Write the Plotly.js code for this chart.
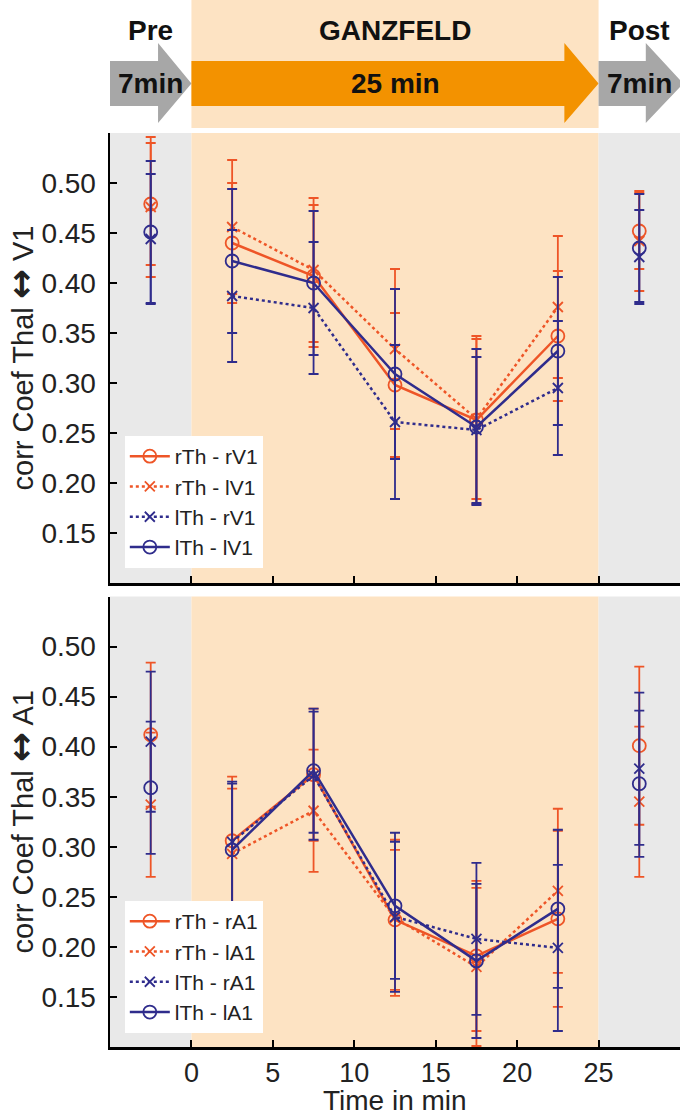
<!DOCTYPE html>
<html>
<head>
<meta charset="utf-8">
<script src="https://cdn.plot.ly/plotly-3.0.1.min.js"></script>
<style>html,body{margin:0;padding:0;background:#fff;}</style>
</head>
<body>
<div id="chart" style="width:685px;height:1118px;"></div>
<script>
// ---- data ----
const times = [-2.5, 2.5, 7.5, 12.5, 17.5, 22.5, 27.5]; // Pre, Ganzfeld blocks, Post
const xTicks = [0, 5, 10, 15, 20, 25];
const yTicks = [0.15, 0.20, 0.25, 0.30, 0.35, 0.40, 0.45, 0.50];

const v1Names = ['rTh - rV1', 'rTh - lV1', 'lTh - rV1', 'lTh - lV1'];
const v1_rTh_rV1 = [0.479, 0.440, 0.407, 0.298, 0.263, 0.347, 0.452];
const v1_rTh_rV1_err = [0.061, 0.060, 0.071, 0.072, 0.084, 0.065, 0.038];
const v1_rTh_lV1 = [0.476, 0.456, 0.413, 0.334, 0.264, 0.376, 0.442];
const v1_rTh_lV1_err = [0.070, 0.067, 0.072, 0.080, 0.080, 0.071, 0.050];
const v1_lTh_rV1 = [0.444, 0.387, 0.375, 0.261, 0.253, 0.295, 0.426];
const v1_lTh_rV1_err = [0.065, 0.066, 0.066, 0.077, 0.073, 0.067, 0.047];
const v1_lTh_lV1 = [0.451, 0.422, 0.400, 0.309, 0.256, 0.332, 0.435];
const v1_lTh_lV1_err = [0.071, 0.072, 0.072, 0.085, 0.078, 0.074, 0.054];

const a1Names = ['rTh - rA1', 'rTh - lA1', 'lTh - rA1', 'lTh - lA1'];
const a1_rTh_rA1 = [0.412, 0.306, 0.372, 0.227, 0.191, 0.228, 0.401];
const a1_rTh_rA1_err = [0.072, 0.064, 0.066, 0.070, 0.075, 0.088, 0.079];
const a1_rTh_lA1 = [0.342, 0.293, 0.336, 0.229, 0.180, 0.256, 0.345];
const a1_rTh_lA1_err = [0.072, 0.065, 0.061, 0.078, 0.079, 0.082, 0.075];
const a1_lTh_rA1 = [0.405, 0.305, 0.371, 0.230, 0.208, 0.199, 0.378];
const a1_lTh_rA1_err = [0.070, 0.060, 0.064, 0.075, 0.076, 0.083, 0.076];
const a1_lTh_lA1 = [0.359, 0.297, 0.376, 0.241, 0.186, 0.238, 0.363];
const a1_lTh_lA1_err = [0.066, 0.066, 0.062, 0.073, 0.077, 0.079, 0.073];

const headerLabels = ['Pre', 'GANZFELD', 'Post'];
const durationLabels = ['7min', '25 min', '7min'];
const xTitle = 'Time in min';

// ---- styles ----
const RED = '#EE5527';
const BLUE = '#2F2C8C';
const FONT = 'Liberation Sans, Arial, Helvetica, sans-serif';
const styles = [
  {color: RED, dash: 'solid', symbol: 'circle-open', size: 13},
  {color: RED, dash: 'dot', symbol: 'x-thin-open', size: 10},
  {color: BLUE, dash: 'dot', symbol: 'x-thin-open', size: 10},
  {color: BLUE, dash: 'solid', symbol: 'circle-open', size: 13}
];

function makeTraces(names, vals, errs, xa, ya, legendId) {
  const out = [];
  names.forEach((nm, i) => {
    const s = styles[i];
    const v = vals[i], e = errs[i];
    const lineIdx = [1, 2, 3, 4, 5];
    const ppIdx = [0, 6];
    const common = {
      xaxis: xa, yaxis: ya,
      marker: {symbol: s.symbol, size: s.size, color: s.color, line: {color: s.color, width: 1.8}},
      error_y: {type: 'data', visible: true, color: s.color, thickness: 1.8, width: 5},
      hoverinfo: 'skip'
    };
    out.push(Object.assign({}, common, {
      type: 'scatter', mode: 'markers',
      x: ppIdx.map(k => times[k]), y: ppIdx.map(k => v[k]),
      error_y: Object.assign({}, common.error_y, {array: ppIdx.map(k => e[k])}),
      showlegend: false, legend: legendId
    }));
    out.push(Object.assign({}, common, {
      type: 'scatter', mode: 'lines+markers', name: nm,
      x: lineIdx.map(k => times[k]), y: lineIdx.map(k => v[k]),
      error_y: Object.assign({}, common.error_y, {array: lineIdx.map(k => e[k])}),
      line: {color: s.color, width: 2.5, dash: s.dash},
      legend: legendId
    }));
  });
  return out;
}

const traces = [].concat(
  makeTraces(v1Names, [v1_rTh_rV1, v1_rTh_lV1, v1_lTh_rV1, v1_lTh_lV1],
             [v1_rTh_rV1_err, v1_rTh_lV1_err, v1_lTh_rV1_err, v1_lTh_lV1_err], 'x', 'y', 'legend'),
  makeTraces(a1Names, [a1_rTh_rA1, a1_rTh_lA1, a1_lTh_rA1, a1_lTh_lA1],
             [a1_rTh_rA1_err, a1_rTh_lA1_err, a1_lTh_rA1_err, a1_lTh_lA1_err], 'x2', 'y2', 'legend2')
);

// ---- layout helpers ----
const PLOT_H = 1047; // height of plotting area in px (t=0, b=71)
const py = p => (PLOT_H - p) / PLOT_H; // pixel row -> paper fraction

const GRAY_BG = '#E9E9E9';
const ORANGE_BG = '#FDE3C3';
const ARROW_GRAY = '#A7A7A7';
const ARROW_ORANGE = '#F39200';

function bgShapes(xr, yr) {
  return [
    {type: 'rect', xref: xr, yref: yr + ' domain', x0: -5, x1: 0, y0: 0, y1: 1, fillcolor: GRAY_BG, line: {width: 0}, layer: 'below'},
    {type: 'rect', xref: xr, yref: yr + ' domain', x0: 0, x1: 25, y0: 0, y1: 1, fillcolor: ORANGE_BG, line: {width: 0}, layer: 'below'},
    {type: 'rect', xref: xr, yref: yr + ' domain', x0: 25, x1: 30, y0: 0, y1: 1, fillcolor: GRAY_BG, line: {width: 0}, layer: 'below'}
  ];
}

function arrowPath(x0, xh, xt) {
  const bt = py(61), bb = py(106), ht = py(43), hb = py(123), mid = py(83.5);
  return `M ${x0},${bt} L ${xh},${bt} L ${xh},${ht} L ${xt},${mid} L ${xh},${hb} L ${xh},${bb} L ${x0},${bb} Z`;
}

const shapes = [].concat(
  bgShapes('x', 'y'),
  bgShapes('x2', 'y2'),
  [
    {type: 'rect', xref: 'x', yref: 'paper', x0: 0, x1: 25, y0: py(128), y1: 1, fillcolor: ORANGE_BG, line: {width: 0}, layer: 'below'},
    {type: 'path', xref: 'x', yref: 'paper', path: arrowPath(-5, -2.05, 0), fillcolor: ARROW_GRAY, line: {width: 0}},
    {type: 'path', xref: 'x', yref: 'paper', path: arrowPath(0, 22.9, 25), fillcolor: ARROW_ORANGE, line: {width: 0}},
    {type: 'path', xref: 'x', yref: 'paper', path: arrowPath(25, 27.9, 30.2), fillcolor: ARROW_GRAY, line: {width: 0}}
  ]
);

const headerX = [-2.5, 12.5, 27.5];
const annotations = [];
headerLabels.forEach((t, i) => annotations.push({
  text: '<b>' + t + '</b>', xref: 'x', yref: 'paper', x: headerX[i], y: py(30),
  showarrow: false, font: {family: FONT, size: 28, color: '#111'}, xanchor: 'center', yanchor: 'middle'
}));
durationLabels.forEach((t, i) => annotations.push({
  text: '<b>' + t + '</b>', xref: 'x', yref: 'paper', x: headerX[i], y: py(84),
  showarrow: false, font: {family: FONT, size: 28, color: '#111'}, xanchor: 'center', yanchor: 'middle'
}));
// x-axis title of the bottom panel, pinned to the bottom edge of the figure
annotations.push({
  text: xTitle, xref: 'paper', yref: 'paper', x: 0.5, y: py(1117), xanchor: 'center', yanchor: 'bottom',
  showarrow: false, font: {family: FONT, size: 28, color: '#222'}, borderpad: 0
});

const ARROW = '<span style="font-family:DejaVu Sans;font-weight:bold;font-size:36px">↔</span>';

const xBase = {
  range: [-5, 30], showline: true, linewidth: 2.5, linecolor: '#000',
  ticks: 'inside', ticklen: 7, tickwidth: 2, tickcolor: '#000',
  tickvals: xTicks, showgrid: false, zeroline: false, fixedrange: true, automargin: false
};
const yBase = {
  range: [0.10, 0.55], showline: true, linewidth: 2.5, linecolor: '#000',
  ticks: 'inside', ticklen: 7, tickwidth: 2, tickcolor: '#000',
  tickvals: yTicks, tickformat: '.2f', showgrid: false, zeroline: false,
  tickfont: {family: FONT, size: 28, color: '#222'}, ticklabelstandoff: 6, fixedrange: true, automargin: false
};
const legBase = {
  xanchor: 'left', yanchor: 'bottom', bgcolor: '#FFFFFF', borderwidth: 0,
  font: {family: FONT, size: 21, color: '#222'}, itemwidth: 40, tracegroupgap: 0
};

const layout = {
  width: 685, height: 1118,
  margin: {l: 110, r: 5, t: 0, b: 71},
  paper_bgcolor: '#FFFFFF', plot_bgcolor: 'rgba(0,0,0,0)',
  font: {family: FONT, color: '#222', size: 28},
  xaxis: Object.assign({}, xBase, {anchor: 'y', domain: [0, 1], showticklabels: false}),
  yaxis: Object.assign({}, yBase, {anchor: 'x', domain: [py(583), py(133)],
    title: {text: 'corr Coef Thal ' + ARROW + ' V1', font: {family: FONT, size: 29, color: '#222'}, standoff: 8}}),
  xaxis2: Object.assign({}, xBase, {anchor: 'y2', domain: [0, 1], showticklabels: true,
    tickfont: {family: FONT, size: 27, color: '#222'}, ticklabelstandoff: 0}),
  yaxis2: Object.assign({}, yBase, {anchor: 'x2', domain: [0, py(596.5)],
    title: {text: 'corr Coef Thal ' + ARROW + ' A1', font: {family: FONT, size: 29, color: '#222'}, standoff: 8}}),
  legend: Object.assign({}, legBase, {x: 0.026, y: py(568)}),
  legend2: Object.assign({}, legBase, {x: 0.026, y: py(1033)}),
  shapes: shapes,
  annotations: annotations
};

Plotly.newPlot('chart', traces, layout, {displayModeBar: false, staticPlot: true});
</script>
</body>
</html>
